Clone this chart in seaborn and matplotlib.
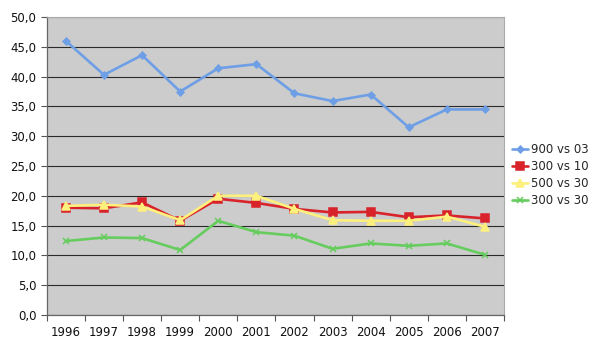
import matplotlib
matplotlib.use("Agg")
import matplotlib.pyplot as plt
import seaborn as sns
import pandas as pd
import numpy as np
from matplotlib.ticker import FuncFormatter, FixedLocator

years = ["1996", "1997", "1998", "1999", "2000", "2001", "2002", "2003", "2004", "2005", "2006", "2007"]
s900_03 = [46.0, 40.3, 43.6, 37.5, 41.4, 42.1, 37.2, 35.9, 37.0, 31.5, 34.5, 34.5]
s300_10 = [18.0, 17.9, 18.9, 15.8, 19.5, 18.8, 17.8, 17.2, 17.3, 16.4, 16.7, 16.2]
s500_30 = [18.3, 18.5, 18.2, 15.9, 20.0, 20.0, 17.8, 15.9, 15.8, 15.8, 16.5, 14.8]
s300_30 = [12.4, 13.0, 12.9, 10.9, 15.8, 13.9, 13.3, 11.1, 12.0, 11.6, 12.0, 10.1]
series_names = ["900 vs 03", "300 vs 10", "500 vs 30", "300 vs 30"]

rows = []
for name, vals in zip(series_names, [s900_03, s300_10, s500_30, s300_30]):
    for i, v in enumerate(vals):
        rows.append({"pos": i, "value": v, "series": name})
df = pd.DataFrame(rows)

sns.set_theme(style="white")
plt.rcParams['font.family'] = ['DejaVu Sans']

fig = plt.figure(figsize=(6.0, 3.48), dpi=100)
ax = fig.add_axes([0.078, 0.095, 0.762, 0.856])
ax.set_facecolor("#cccccc")

palette = {"900 vs 03": "#6e9fe6", "300 vs 10": "#d9232b", "500 vs 30": "#fdf07c", "300 vs 30": "#66cc5e"}
markers = {"900 vs 03": "D", "300 vs 10": "s", "500 vs 30": "^", "300 vs 30": "x"}
sizes = {"900 vs 03": 3.5, "300 vs 10": 5.5, "500 vs 30": 5.5, "300 vs 30": 5}

for name in series_names:
    sub = df[df["series"] == name]
    sns.lineplot(data=sub, x="pos", y="value", ax=ax, color=palette[name], marker=markers[name],
                 markersize=sizes[name], markeredgecolor=palette[name], markeredgewidth=1.1,
                 linewidth=1.9, label=name, zorder=3)

ax.set_xlim(-0.5, len(years) - 0.5)
ax.set_ylim(0, 50)
ax.yaxis.set_major_locator(FixedLocator(np.arange(0, 50.1, 5)))
ax.yaxis.set_major_formatter(FuncFormatter(lambda v, p: f"{v:.1f}".replace(".", ",")))
ax.grid(axis="y", color="#2a2a2a", linewidth=0.8)
ax.set_axisbelow(True)

ax.set_xticks(range(len(years)))
ax.set_xticklabels(years)
ax.xaxis.set_minor_locator(FixedLocator(np.arange(-0.5, len(years), 1.0)))
ax.tick_params(axis="x", which="major", length=0, labelsize=8.5, pad=8, colors="#111111")
ax.tick_params(axis="x", which="minor", length=4, width=0.8, color="#555555", bottom=True)
ax.tick_params(axis="y", which="major", length=4, width=0.8, color="#555555", left=True, labelsize=8.5, colors="#111111")
ax.set_xlabel("")
ax.set_ylabel("")

for side in ["top", "right"]:
    ax.spines[side].set_visible(True)
    ax.spines[side].set_color("#aaaaaa")
    ax.spines[side].set_linewidth(0.8)
for side in ["left", "bottom"]:
    ax.spines[side].set_color("#666666")
    ax.spines[side].set_linewidth(0.9)

leg = ax.legend(loc="center left", bbox_to_anchor=(1.0, 0.47), frameon=False, fontsize=8.5,
                handlelength=1.3, handletextpad=0.3, labelspacing=0.35, borderaxespad=0.3)

fig.savefig("out.png", dpi=100)
